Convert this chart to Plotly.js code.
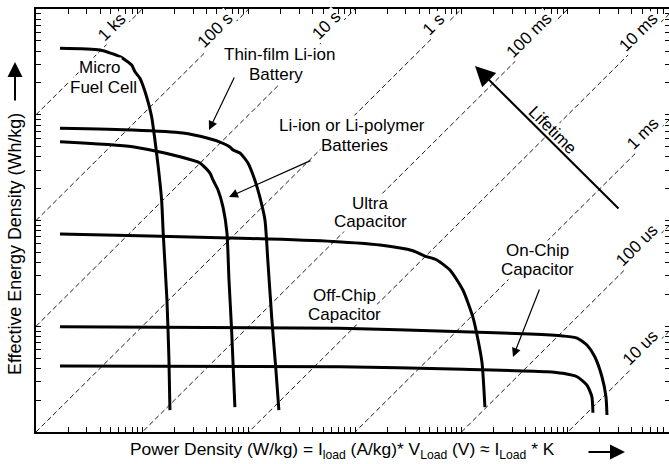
<!DOCTYPE html>
<html><head><meta charset="utf-8">
<script src="https://cdn.plot.ly/plotly-3.0.1.min.js"></script>
<style>html,body{margin:0;padding:0;overflow:hidden;background:#fff}</style>
</head><body><div id="chart" style="width:674px;height:464px"></div>
<script>
// ---- data (power density, effective energy density; lifetime t = E / P) ----
const fuelCellPower  = [1.68, 4.00, 6.15, 7.93, 8.51, 9.48, 10.96, 12.22, 13.12, 14.09, 15.17, 15.70, 17.02, 17.78, 18.16];
const fuelCellEnergy = [4250, 4090, 3540, 2950, 2550, 2210, 1480, 959, 577, 323, 156, 75.7, 17.7, 4.80, 1.61];

const thinFilmPower  = [1.68, 8.11, 24.1, 40.5, 53.6, 66.6, 71.1, 82.7, 98.3, 114, 127, 142, 151, 165, 180, 192];
const thinFilmEnergy = [745, 718, 672, 603, 552, 496, 464, 435, 350, 242, 167, 101, 42.3, 11.5, 3.86, 1.61];

const liIonPower  = [1.68, 8.11, 22.6, 34.8, 43.2, 46.1, 51.4, 57.3, 62.4, 65.2, 69.0, 74.1];
const liIonEnergy = [556, 499, 401, 350, 281, 242, 194, 134, 76.2, 27.4, 9.22, 1.72];

const ultraCapPower  = [1.68, 11.8, 103, 618, 1710, 3490, 4530, 5870, 7780, 10300, 12800, 14300, 15600, 16600];
const ultraCapEnergy = [74.5, 71.3, 67.6, 63.3, 58.6, 51.8, 46.1, 42.3, 34.0, 22.0, 12.2, 7.41, 4.49, 1.72];

const offChipPower  = [1.68, 720, 10300, 44000, 89700, 122000, 151000, 179000, 209000, 228000, 233000];
const offChipEnergy = [9.90, 9.57, 8.88, 8.45, 8.09, 7.74, 6.65, 5.15, 3.33, 2.16, 1.45];

const onChipPower  = [1.68, 720, 10300, 63500, 89700, 122000, 151000, 168000, 172000];
const onChipEnergy = [4.21, 4.14, 3.92, 3.72, 3.59, 3.33, 2.78, 2.16, 1.52];

const lifetimeSeconds = [1000, 100, 10, 1, 0.1, 0.01, 0.001, 0.0001, 0.00001];
const lifetimeLabels  = ['1 ks', '100 s', '10 s', '1 s', '100 ms', '10 ms', '1 ms', '100 us', '10 us'];

// ---- layout geometry ----
const W = 674, H = 464;
const M = {l: 36, r: 4, t: 9, b: 32};
const plotW = W - M.l - M.r, plotH = H - M.t - M.b;
const XR = [0, 5.96], YR = [0, 4];
const lx = px => XR[0] + (px - M.l) / plotW * (XR[1] - XR[0]);
const ly = py => YR[0] + (H - M.b - py) / plotH * (YR[1] - YR[0]);
const paperX = px => (px - M.l) / plotW;
const paperY = py => (H - M.b - py) / plotH;

const FONT = 'Liberation Sans, Arial, sans-serif';
const TXT = 17;
const C = {xanchor: 'center', yanchor: 'middle'};

const traces = [];
lifetimeSeconds.forEach(t => {
  const xs = [1, Math.pow(10, 6.5)];
  traces.push({
    x: xs, y: xs.map(p => p * t), mode: 'lines', type: 'scatter',
    line: {color: '#000', width: 0.9, dash: '5px,3px'}, hoverinfo: 'skip'
  });
});
const curves = [
  [fuelCellPower, fuelCellEnergy, 'Micro Fuel Cell'],
  [thinFilmPower, thinFilmEnergy, 'Thin-film Li-ion Battery'],
  [liIonPower, liIonEnergy, 'Li-ion or Li-polymer Batteries'],
  [ultraCapPower, ultraCapEnergy, 'Ultra Capacitor'],
  [offChipPower, offChipEnergy, 'Off-Chip Capacitor'],
  [onChipPower, onChipEnergy, 'On-Chip Capacitor']
];
curves.forEach(c => traces.push({
  x: c[0], y: c[1], name: c[2], mode: 'lines', type: 'scatter',
  line: {color: '#000', width: 3, shape: 'spline', smoothing: 0.6}
}));

const annotations = [];
// lifetime line labels (anchored on each line)
const lifetimeLabelPy = [27, 30, 25, 24, 35, 32, 133, 245, 347];
lifetimeSeconds.forEach((t, i) => {
  const yl = ly(lifetimeLabelPy[i]);
  annotations.push(Object.assign({
    x: yl - Math.log10(t), y: yl, xref: 'x', yref: 'y', xshift: -13,
    text: lifetimeLabels[i], showarrow: false, textangle: -45,
    font: {family: FONT, size: TXT, color: '#000'}, bgcolor: '#fff', borderpad: 0
  }, C));
});
// text labels, one annotation per text line: [text, centerX px, centerY px]
const textLines = [
  ['Micro', 100, 67],
  ['Fuel Cell', 103, 87.5],
  ['Thin-film Li-ion', 279, 54.5],
  ['Battery', 276, 74.5],
  ['Li-ion or Li-polymer', 352, 125],
  ['Batteries', 354, 145],
  ['Ultra', 370, 203.5],
  ['Capacitor', 370, 221.5],
  ['On-Chip', 537, 250],
  ['Capacitor', 537, 269],
  ['Off-Chip', 344, 295],
  ['Capacitor', 344.5, 314]
];
textLines.forEach(a => annotations.push(Object.assign({
  x: lx(a[1]), y: ly(a[2]), xref: 'x', yref: 'y', text: a[0], showarrow: false,
  font: {family: FONT, size: TXT, color: '#000'}, bgcolor: '#fff', borderpad: 0
}, C)));
annotations.push(Object.assign({
  x: lx(553), y: ly(130), xref: 'x', yref: 'y', text: 'Lifetime', showarrow: false,
  textangle: 45, font: {family: FONT, size: TXT, color: '#000'}, bgcolor: '#fff', borderpad: 0
}, C));
// pointer arrows [tipX, tipY, tailX, tailY]
const pointers = [[209, 130, 235, 76], [229, 197, 312, 160], [513, 357, 540, 288]];
pointers.forEach(p => annotations.push({
  x: lx(p[0]), y: ly(p[1]), xref: 'x', yref: 'y', text: '', showarrow: true,
  ax: p[2] - p[0], ay: p[3] - p[1],
  arrowhead: 2, arrowsize: 1.5, arrowwidth: 1.2, arrowcolor: '#000', standoff: 0
}));
// lifetime arrow
annotations.push({
  x: lx(475), y: ly(66), xref: 'x', yref: 'y', text: '', showarrow: true,
  ax: 145, ay: 144, arrowhead: 2, arrowsize: 2, arrowwidth: 2, arrowcolor: '#000', standoff: 0
});
// axis titles
annotations.push(Object.assign({
  x: paperX(342), y: paperY(450), xref: 'paper', yref: 'paper', showarrow: false,
  text: 'Power Density (W/kg) = I<sub>load</sub> (A/kg)* V<sub>Load</sub> (V) \u2248 I<sub>Load</sub> * K',
  font: {family: FONT, size: 17.4, color: '#000'}
}, C));
annotations.push(Object.assign({
  x: paperX(15), y: paperY(244), xref: 'paper', yref: 'paper', showarrow: false, textangle: -90,
  text: 'Effective Energy Density (Wh/kg)', font: {family: FONT, size: 17.9, color: '#000'}
}, C));
// axis direction arrows
annotations.push({
  x: paperX(15), y: paperY(62), xref: 'paper', yref: 'paper', text: '', showarrow: true,
  ax: 0, ay: 40, arrowhead: 2, arrowsize: 1.5, arrowwidth: 2, arrowcolor: '#000', standoff: 0
});
annotations.push({
  x: paperX(625), y: paperY(452), xref: 'paper', yref: 'paper', text: '', showarrow: true,
  ax: -38, ay: 0, arrowhead: 2, arrowsize: 1.5, arrowwidth: 2, arrowcolor: '#000', standoff: 0
});

const axisCommon = {
  type: 'log', dtick: 'D1', showticklabels: false, ticks: 'inside', ticklen: 5,
  tickwidth: 1, tickcolor: '#000', showline: true, linecolor: '#000', linewidth: 2,
  mirror: 'ticks', showgrid: false, zeroline: false, fixedrange: true
};

const layout = {
  width: W, height: H, margin: M, showlegend: false, hovermode: false,
  paper_bgcolor: '#fff', plot_bgcolor: '#fff',
  font: {family: FONT, size: TXT, color: '#000'},
  xaxis: Object.assign({}, axisCommon, {range: XR}),
  yaxis: Object.assign({}, axisCommon, {range: YR}),
  annotations: annotations
};

Plotly.newPlot('chart', traces, layout, {staticPlot: true, displayModeBar: false});
</script></body></html>
